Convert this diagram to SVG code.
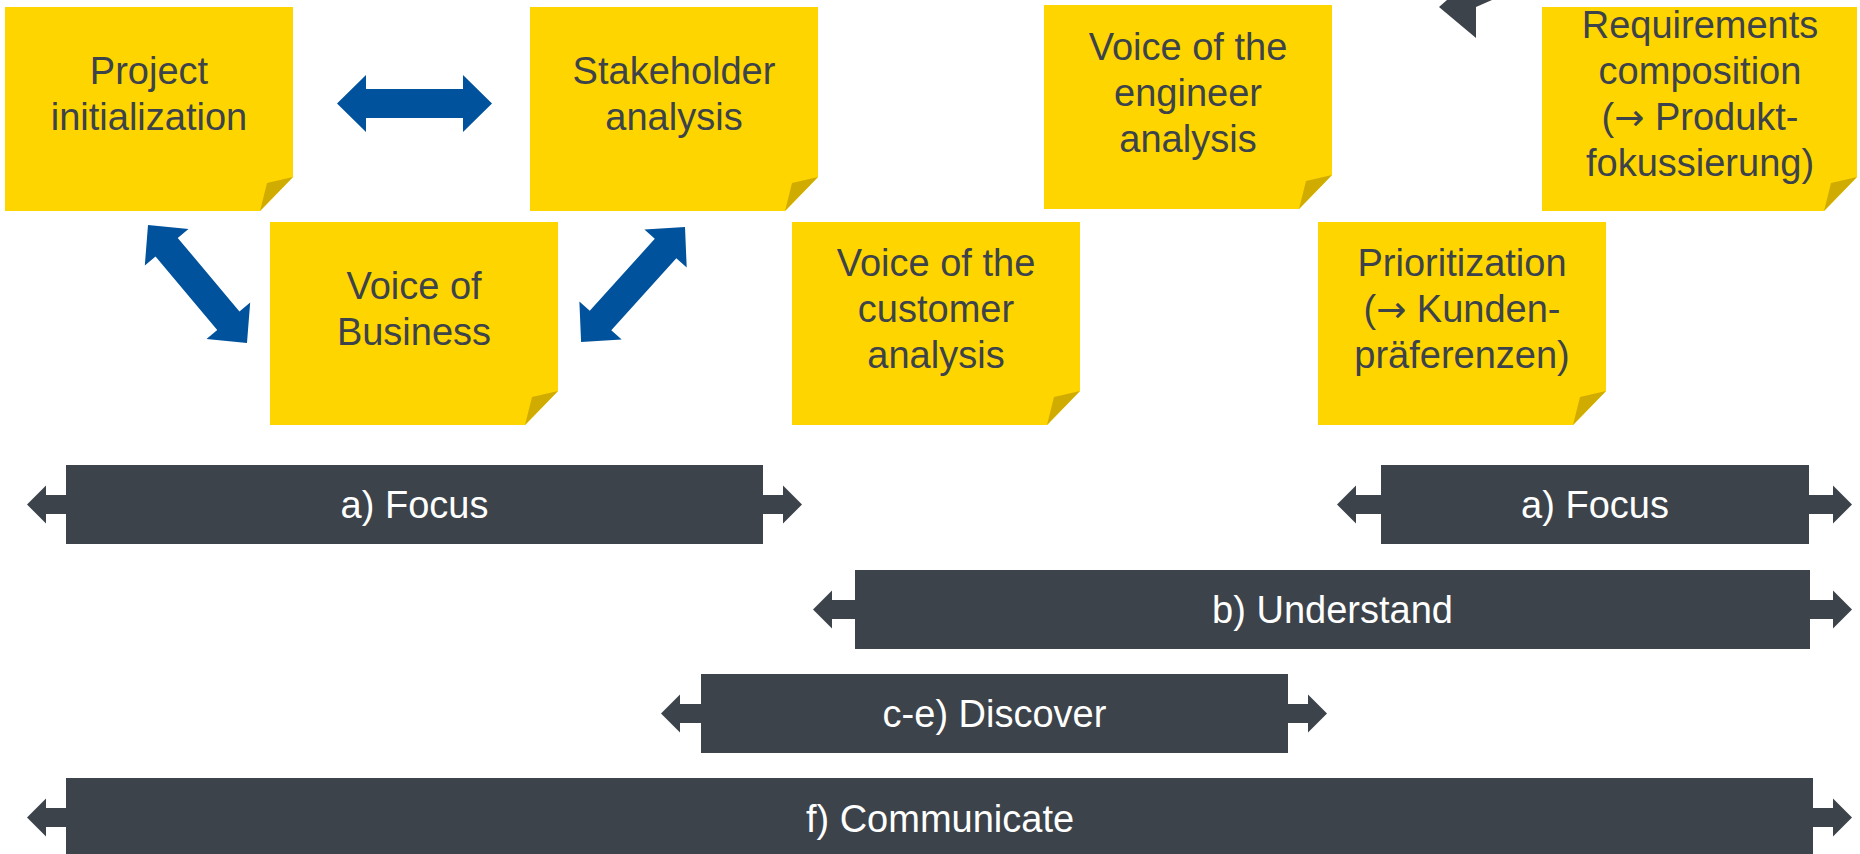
<svg xmlns="http://www.w3.org/2000/svg" width="1860" height="854" viewBox="0 0 1860 854">
<style>
.body{fill:#FFD500}
.fold{fill:#D1AC00}
.nt{font-family:"Liberation Sans",Arial,sans-serif;font-size:38px;fill:#3C434A;text-anchor:middle}
.bt{font-family:"Liberation Sans",Arial,sans-serif;font-size:38px;fill:#FFFFFF;text-anchor:middle}
.ar{font-family:"DejaVu Sans",sans-serif;font-size:36px}
.bar{fill:#3C434A}
.conn{fill:#00529C}
</style>
<defs>
<polygon id="dbl154" points="0,0 29,-28.5 29,-14.5 125,-14.5 125,-28.5 154,0 125,28.5 125,14.5 29,14.5 29,28.5"/>
<polygon id="dbl155" points="0,0 29,-28.5 29,-14.5 126,-14.5 126,-28.5 155,0 126,28.5 126,14.5 29,14.5 29,28.5"/>
</defs>
<rect width="1860" height="854" fill="#FFFFFF"/>

<g id="connectors">
<polygon class="conn" points="337,103.5 366,75 366,89 463,89 463,75 492,103.5 463,132 463,118 366,118 366,132"/>
<use href="#dbl154" class="conn" transform="translate(148,225) rotate(50)"/>
<use href="#dbl155" class="conn" transform="translate(685,227) rotate(132.1)"/>
<polygon class="bar" points="1447,0 1439,7 1476,38 1476,7 1492,0"/>
</g>

<g id="project-initialization">
<polygon class="body" points="5,7 293,7 293,177 260,211 5,211"/>
<polygon class="fold" points="260,211 267,183 293,177"/>
<text class="nt" x="149" y="84">Project</text>
<text class="nt" x="149" y="130">initialization</text>
</g>

<g id="stakeholder-analysis">
<polygon class="body" points="530,7 818,7 818,177 785,211 530,211"/>
<polygon class="fold" points="785,211 792,183 818,177"/>
<text class="nt" x="674" y="84">Stakeholder</text>
<text class="nt" x="674" y="130">analysis</text>
</g>

<g id="voice-of-engineer">
<polygon class="body" points="1044,5 1332,5 1332,175 1299,209 1044,209"/>
<polygon class="fold" points="1299,209 1306,181 1332,175"/>
<text class="nt" x="1188" y="60">Voice of the</text>
<text class="nt" x="1188" y="106">engineer</text>
<text class="nt" x="1188" y="152">analysis</text>
</g>

<g id="requirements-composition">
<polygon class="body" points="1542,7 1857,7 1857,177 1824,211 1542,211"/>
<polygon class="fold" points="1824,211 1831,183 1857,177"/>
<text class="nt" x="1700" y="38">Requirements</text>
<text class="nt" x="1700" y="84">composition</text>
<text class="nt" x="1700" y="130">(<tspan class="ar">→</tspan> Produkt-</text>
<text class="nt" x="1700" y="176">fokussierung)</text>
</g>

<g id="voice-of-business">
<polygon class="body" points="270,222 558,222 558,391 525,425 270,425"/>
<polygon class="fold" points="525,425 532,397 558,391"/>
<text class="nt" x="414" y="299">Voice of</text>
<text class="nt" x="414" y="345">Business</text>
</g>

<g id="voice-of-customer">
<polygon class="body" points="792,222 1080,222 1080,391 1047,425 792,425"/>
<polygon class="fold" points="1047,425 1054,397 1080,391"/>
<text class="nt" x="936" y="276">Voice of the</text>
<text class="nt" x="936" y="322">customer</text>
<text class="nt" x="936" y="368">analysis</text>
</g>

<g id="prioritization">
<polygon class="body" points="1318,222 1606,222 1606,391 1573,425 1318,425"/>
<polygon class="fold" points="1573,425 1580,397 1606,391"/>
<text class="nt" x="1462" y="276">Prioritization</text>
<text class="nt" x="1462" y="322">(<tspan class="ar">→</tspan> Kunden-</text>
<text class="nt" x="1462" y="368">präferenzen)</text>
</g>

<g id="phase-focus-1">
<rect class="bar" x="66" y="465" width="697" height="79"/>
<polygon class="bar" points="27,504.5 46,485.5 46,495 66,495 66,514 46,514 46,523.5"/>
<polygon class="bar" points="802,504.5 783,485.5 783,495 763,495 763,514 783,514 783,523.5"/>
<text class="bt" x="414.5" y="518">a) Focus</text>
</g>

<g id="phase-focus-2">
<rect class="bar" x="1381" y="465" width="428" height="79"/>
<polygon class="bar" points="1337,504.5 1356,485.5 1356,495 1381,495 1381,514 1356,514 1356,523.5"/>
<polygon class="bar" points="1852,504.5 1833,485.5 1833,495 1809,495 1809,514 1833,514 1833,523.5"/>
<text class="bt" x="1595" y="518">a) Focus</text>
</g>

<g id="phase-understand">
<rect class="bar" x="855" y="570" width="955" height="79"/>
<polygon class="bar" points="813,609.5 832,590.5 832,600 855,600 855,619 832,619 832,628.5"/>
<polygon class="bar" points="1852,609.5 1833,590.5 1833,600 1810,600 1810,619 1833,619 1833,628.5"/>
<text class="bt" x="1332.5" y="623">b) Understand</text>
</g>

<g id="phase-discover">
<rect class="bar" x="701" y="674" width="587" height="79"/>
<polygon class="bar" points="661,713.5 680,694.5 680,704 701,704 701,723 680,723 680,732.5"/>
<polygon class="bar" points="1327,713.5 1308,694.5 1308,704 1288,704 1288,723 1308,723 1308,732.5"/>
<text class="bt" x="994.5" y="727">c-e) Discover</text>
</g>

<g id="phase-communicate">
<rect class="bar" x="66" y="778" width="1747" height="79"/>
<polygon class="bar" points="27,817.5 46,798.5 46,808 66,808 66,827 46,827 46,836.5"/>
<polygon class="bar" points="1852,817.5 1833,798.5 1833,808 1813,808 1813,827 1833,827 1833,836.5"/>
<text class="bt" x="940" y="832">f) Communicate</text>
</g>
</svg>
